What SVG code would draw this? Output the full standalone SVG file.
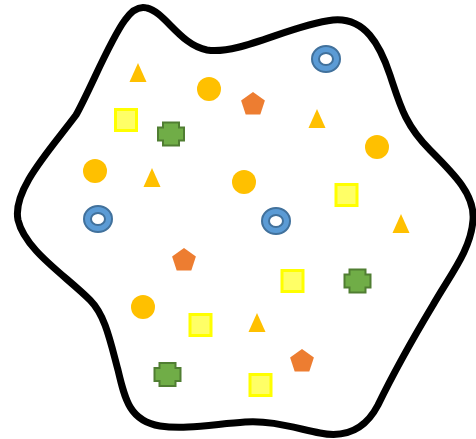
<svg xmlns="http://www.w3.org/2000/svg" xmlns:xlink="http://www.w3.org/1999/xlink" width="476" height="439" viewBox="0 0 476 439">
<style>
.tri{fill:#FFC000}
.cir{fill:#FFC000}
.pen{fill:#ED7D31}
.sq{fill:#FFFF66;stroke:#FFFF00;stroke-width:3}
.crs{fill:#70AD47;stroke:#507E32;stroke-width:2}
.don{fill:#5B9BD5;stroke:#41719C;stroke-width:2;fill-rule:evenodd}
</style>
<defs>
<polygon id="tri" class="tri" points="0,-10 8.5,9 -8.5,9"/>
<circle id="cir" class="cir" r="12"/>
<polygon id="pen" class="pen" points="0,-12.5 11.9,-3.9 7.3,10.1 -7.3,10.1 -11.9,-3.9"/>
<rect id="sq" class="sq" x="-10.5" y="-10.5" width="21" height="21"/>
<polygon id="crs" class="crs" points="-8,-11.5 8,-11.5 8,-6.5 13,-6.5 13,6.5 8,6.5 8,11.5 -8,11.5 -8,6.5 -13,6.5 -13,-6.5 -8,-6.5"/>
<path id="don" class="don" d="M-14,0 a14,13 0 1,0 28,0 a14,13 0 1,0 -28,0 Z M-7,0 a7,6 0 1,0 14,0 a7,6 0 1,0 -14,0 Z"/>
</defs>
<rect width="476" height="439" fill="#fff"/>
<path id="blob" d="M147,8 C165,12 180,45 207,50 C240,55 290,25 333,20 C365,17 380,45 390,75 C400,105 405,125 430,150 C455,175 475,195 473,220 C471,250 450,275 433,305 C415,335 395,370 378,405 C365,430 345,438 320,433 C295,428 270,420 245,422 C215,424 185,430 160,426 C130,421 125,400 118,370 C110,340 105,315 90,300 C65,275 25,250 18,220 C12,190 50,150 76,115 C90,90 110,40 125,20 C132,10 140,6 147,8 Z" fill="none" stroke="#000" stroke-width="7" stroke-linejoin="round"/>
<g id="triangles">
<use xlink:href="#tri" x="138" y="73"/>
<use xlink:href="#tri" x="317" y="119"/>
<use xlink:href="#tri" x="152" y="178"/>
<use xlink:href="#tri" x="401" y="224"/>
<use xlink:href="#tri" x="257" y="323"/>
</g>
<g id="circles">
<use xlink:href="#cir" x="209" y="89"/>
<use xlink:href="#cir" x="377" y="147"/>
<use xlink:href="#cir" x="95" y="171"/>
<use xlink:href="#cir" x="244" y="182"/>
<use xlink:href="#cir" x="143" y="307"/>
</g>
<g id="pentagons">
<use xlink:href="#pen" x="253" y="104.5"/>
<use xlink:href="#pen" x="184" y="260.5"/>
<use xlink:href="#pen" x="302" y="361.5"/>
</g>
<g id="squares">
<use xlink:href="#sq" x="126" y="120"/>
<use xlink:href="#sq" x="346.5" y="195"/>
<use xlink:href="#sq" x="292.5" y="281"/>
<use xlink:href="#sq" x="200.5" y="325"/>
<use xlink:href="#sq" x="260.5" y="385"/>
</g>
<g id="crosses">
<use xlink:href="#crs" x="171" y="134"/>
<use xlink:href="#crs" x="357.5" y="281"/>
<use xlink:href="#crs" x="167.5" y="374.5"/>
</g>
<g id="donuts">
<use xlink:href="#don" x="326" y="59"/>
<use xlink:href="#don" x="98" y="219"/>
<use xlink:href="#don" x="276" y="221"/>
</g>
</svg>
